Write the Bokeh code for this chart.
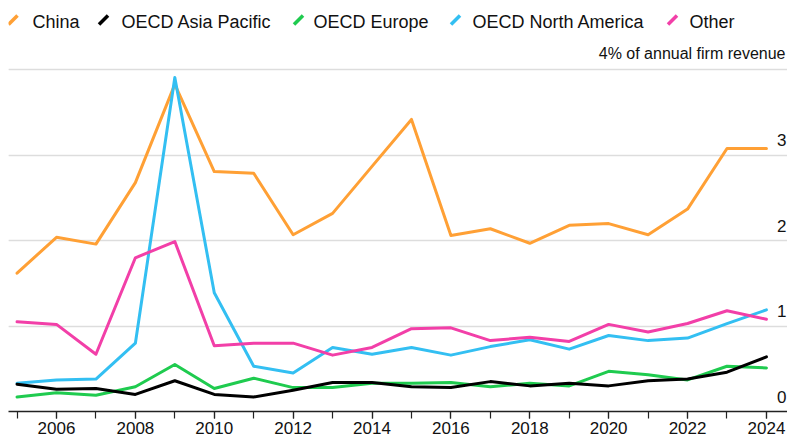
from bokeh.plotting import figure
from bokeh.models import (Range1d, SingleIntervalTicker, FixedTicker, Grid, Label, Arrow,
                          ColumnDataSource)
from bokeh.core.properties import value
from bokeh.embed import file_html
from bokeh.resources import INLINE

years = list(range(2005, 2025))
china = [1.62, 2.04, 1.96, 2.68, 3.83, 2.81, 2.79, 2.07, 2.32, 2.87, 3.42, 2.06, 2.14, 1.97, 2.18, 2.20, 2.07, 2.37, 3.08, 3.08]
asia_pacific = [0.32, 0.26, 0.27, 0.20, 0.36, 0.20, 0.17, 0.25, 0.34, 0.34, 0.29, 0.28, 0.35, 0.30, 0.33, 0.30, 0.36, 0.38, 0.46, 0.64]
europe = [0.17, 0.22, 0.19, 0.29, 0.55, 0.27, 0.39, 0.28, 0.28, 0.33, 0.33, 0.34, 0.29, 0.33, 0.30, 0.47, 0.43, 0.37, 0.53, 0.51]
north_america = [0.33, 0.37, 0.38, 0.80, 3.91, 1.39, 0.53, 0.45, 0.75, 0.67, 0.75, 0.66, 0.76, 0.84, 0.73, 0.89, 0.83, 0.86, 1.03, 1.19]
other = [1.05, 1.02, 0.67, 1.80, 1.99, 0.77, 0.80, 0.80, 0.66, 0.75, 0.97, 0.98, 0.83, 0.87, 0.82, 1.02, 0.93, 1.03, 1.18, 1.08]

y_ticks = [0, 1, 2, 3]
y_tick_labels = ["0", "1", "2", "3"]
unit_tick = [4]
unit_label = ["4% of annual firm revenue"]

series_names = ["China", "OECD Asia Pacific", "OECD Europe", "OECD North America", "Other"]
series_values = [china, asia_pacific, europe, north_america, other]
colors = ["#FFA035", "#000000", "#1FCB4F", "#33BFF2", "#F23FA8"]

FONT = "Liberation Sans"
X0, X1 = 2004.783, 2024.534
Y0, Y1 = 0.0, 4.719

W, H = 787, 441
ML, MT, MB = 8, 8, 30

p = figure(width=W, height=H, output_backend="svg", toolbar_location=None,
           x_range=Range1d(X0, X1), y_range=Range1d(Y0, Y1),
           y_axis_location=None, min_border_left=ML, min_border_right=0,
           min_border_top=MT, min_border_bottom=MB)
p.outline_line_color = None
p.background_fill_color = "white"
p.border_fill_color = "white"
p.xgrid.visible = False

grid = Grid(dimension=1, ticker=FixedTicker(ticks=[1, 2, 3, 4]),
            grid_line_color="#dddddd", grid_line_width=1.5)
p.add_layout(grid)

ax = p.xaxis[0]
ax.ticker = SingleIntervalTicker(interval=2, num_minor_ticks=2)
ax.axis_line_color = "#222222"
ax.axis_line_width = 1.5
ax.major_tick_line_color = "#222222"
ax.minor_tick_line_color = "#222222"
ax.major_tick_line_width = 1.2
ax.minor_tick_line_width = 1.2
ax.major_tick_in = 0
ax.major_tick_out = 7
ax.minor_tick_in = 0
ax.minor_tick_out = 7
ax.major_label_standoff = 3
ax.major_label_text_font = FONT
ax.major_label_text_font_size = "17px"
ax.major_label_text_color = "#111111"

draw_order = [0, 2, 3, 4, 1]
for i in draw_order:
    p.line(years, series_values[i], line_color=colors[i], line_width=3,
           line_join="round", line_cap="round")

# right-side value labels, sitting above the grid lines
lab_src = ColumnDataSource(dict(x=[X1] * len(y_ticks), y=y_ticks, text=y_tick_labels))
p.text(x="x", y="y", text="text", source=lab_src, text_align="right",
       text_baseline="middle", x_offset=-1, y_offset=-15,
       text_font=value(FONT), text_font_size="17px", text_color="#111111")
unit_src = ColumnDataSource(dict(x=[X1], y=unit_tick, text=unit_label))
p.text(x="x", y="y", text="text", source=unit_src, text_align="right",
       text_baseline="middle", x_offset=-2, y_offset=-16,
       text_font=value(FONT), text_font_size="16px", text_color="#111111")

# legend: slanted swatches + labels, positioned in screen pixels
def sx(page_x):
    return page_x - ML
def sy(page_y):
    return (H - MB) - page_y

legend_text_x = [32, 121, 313, 472, 689]
swatch_cx = [12.5, 103, 298, 455, 672]
swatch_cy = 19.5
half = 4.5
text_baseline_y = 21.0
for name, c, tx, cx in zip(series_names, colors, legend_text_x, swatch_cx):
    p.add_layout(Arrow(x_start=sx(cx - half), y_start=sy(swatch_cy + half),
                       x_end=sx(cx + half), y_end=sy(swatch_cy - half),
                       start_units="screen", end_units="screen", start=None, end=None,
                       line_color=c, line_width=3.5, line_cap="butt"))
    p.add_layout(Label(x=sx(tx), y=sy(text_baseline_y), x_units="screen", y_units="screen",
                       text=name, text_font=FONT, text_font_size="18px",
                       text_color="#111111", text_baseline="alphabetic", text_align="left"))

open("out.html", "w").write(file_html(p, INLINE))
